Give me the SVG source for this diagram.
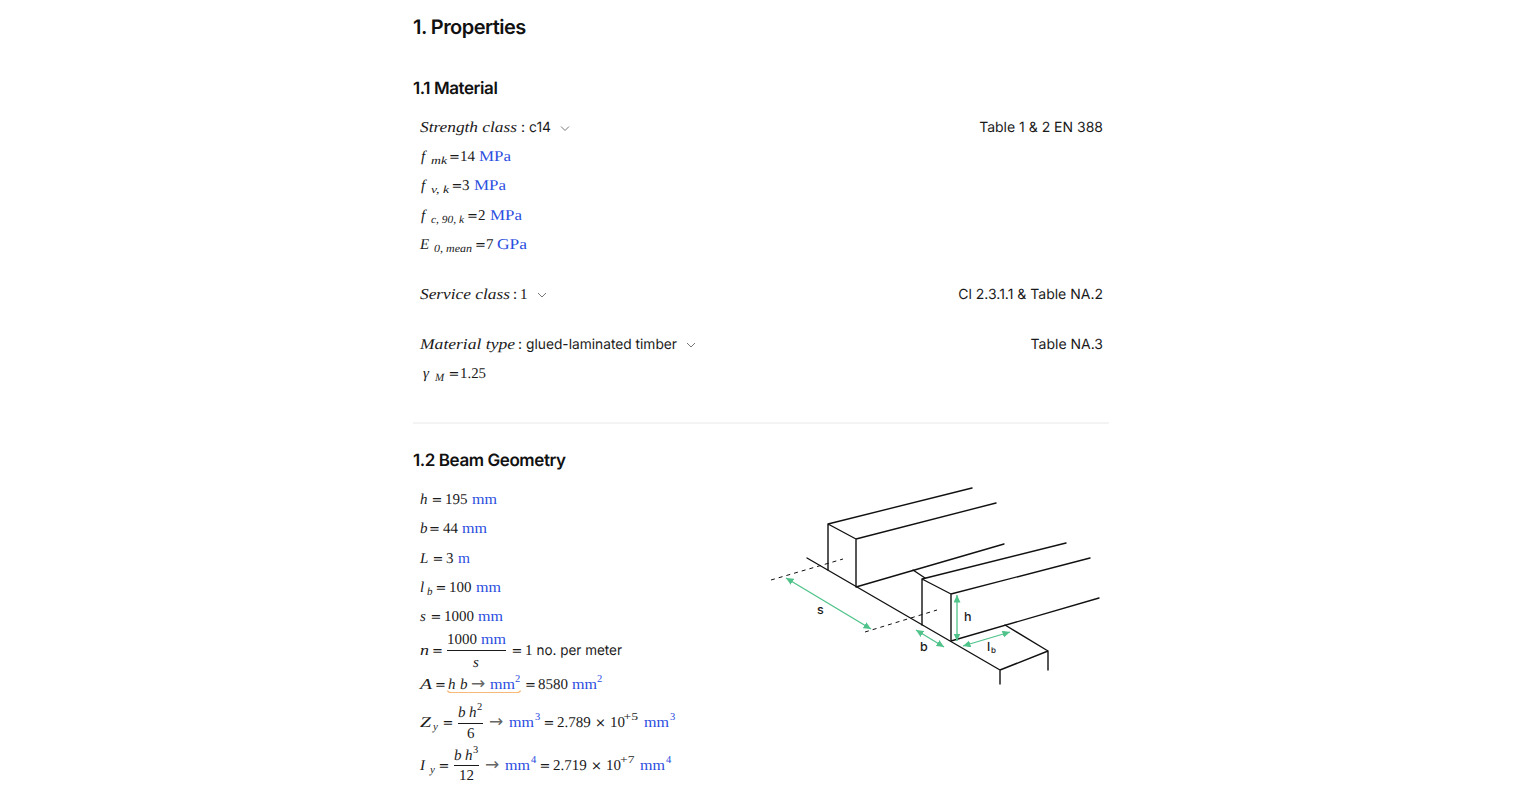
<svg xmlns="http://www.w3.org/2000/svg" width="1520" height="798" viewBox="0 0 1520 798">
<defs>
<style>
text{fill:#1a1a1a;font-family:"Liberation Serif",serif;font-size:15px;text-rendering:geometricPrecision}
.i{font-style:italic}
.u{fill:#2a4de0}
.s{font-size:10.5px}
.si{font-size:11px;font-style:italic}
.e{font-family:"DejaVu Sans",sans-serif;font-size:13px}
.a{font-family:"DejaVu Sans",sans-serif;font-size:17px;fill:#666}
.n{font-family:Inter,"Liberation Sans",sans-serif;font-size:14px}
.h1{font-family:Inter,"Liberation Sans",sans-serif;font-size:20px;font-weight:600;letter-spacing:-.55px;fill:#111}
.h2{font-family:Inter,"Liberation Sans",sans-serif;font-size:17px;font-weight:600;letter-spacing:-.42px;fill:#111}
.r{text-anchor:end}
.l{font-family:Inter,"Liberation Sans",sans-serif;font-size:12.500px;font-weight:500}
.c{fill:none;stroke:#777;stroke-width:1}
.f{stroke:#1a1a1a;stroke-width:1;fill:none}
.b{stroke:#111;stroke-width:1.400;fill:none;stroke-linecap:round;stroke-linejoin:round}
.d{stroke:#111;stroke-width:1;stroke-dasharray:4 4;fill:none}
.g{stroke:#4fc38a;stroke-width:1.300;fill:none;marker-start:url(#ah);marker-end:url(#ah)}
</style>
<marker id="ah" markerUnits="userSpaceOnUse" markerWidth="8" markerHeight="8" refX="7.500" refY="3.500" orient="auto-start-reverse"><path d="M0 0L7.500 3.500L0 7Z" fill="#4fc38a"/></marker>
</defs>
<rect width="1520" height="798" fill="#fff"/>

<g id="headings">
<text class="h1" x="413" y="34">1. Properties</text>
<text class="h2" x="413" y="94">1.1 Material</text>
<text class="h2" x="413" y="466">1.2 Beam Geometry</text>
<line x1="413" y1="423" x2="1109" y2="423" stroke="#e8e8e8"/>
</g>

<g id="material">
<text class="i" x="420" y="132" textLength="97" lengthAdjust="spacingAndGlyphs">Strength class</text>
<text class="n" x="521" y="132">:</text><text class="n" x="529" y="132" textLength="22" lengthAdjust="spacingAndGlyphs">c14</text>
<path class="c" d="M561 126.500L565 130.500L569 126.500"/>
<text class="n r" x="1103" y="132">Table 1 &amp; 2 EN 388</text>

<text class="i" x="421" y="161" font-size="16">f</text><text class="si" x="431" y="164" textLength="16" lengthAdjust="spacingAndGlyphs">mk</text><text class="e" x="449" y="161">=</text><text x="460" y="161">14</text><text class="u" x="479" y="161" textLength="32" lengthAdjust="spacingAndGlyphs">MPa</text>
<text class="i" x="421" y="190">f</text><text class="si" x="431" y="193" textLength="18" lengthAdjust="spacingAndGlyphs">v, k</text><text class="e" x="451.500" y="190">=</text><text x="462" y="190">3</text><text class="u" x="474" y="190" textLength="32" lengthAdjust="spacingAndGlyphs">MPa</text>
<text class="i" x="421" y="220">f</text><text class="si" x="431" y="223" textLength="33" lengthAdjust="spacingAndGlyphs">c, 90, k</text><text class="e" x="467" y="220">=</text><text x="478" y="220">2</text><text class="u" x="490" y="220" textLength="32" lengthAdjust="spacingAndGlyphs">MPa</text>
<text class="i" x="420" y="249">E</text><text class="si" x="434" y="252" textLength="38" lengthAdjust="spacingAndGlyphs">0, mean</text><text class="e" x="475" y="249">=</text><text x="486" y="249">7</text><text class="u" x="497" y="249" textLength="30" lengthAdjust="spacingAndGlyphs">GPa</text>

<text class="i" x="420" y="299" textLength="90" lengthAdjust="spacingAndGlyphs">Service class</text>
<text class="n" x="513" y="299">:</text><text x="520" y="299">1</text>
<path class="c" d="M538 293L542 297L546 293"/>
<text class="n r" x="1103" y="299">Cl 2.3.1.1 &amp; Table NA.2</text>

<text class="i" x="420" y="349" textLength="95" lengthAdjust="spacingAndGlyphs">Material type</text>
<text class="n" x="518" y="349">:</text><text class="n" x="526" y="349" textLength="151" lengthAdjust="spacingAndGlyphs">glued-laminated timber</text>
<path class="c" d="M687 343L691 347L695 343"/>
<text class="n r" x="1103" y="349">Table NA.3</text>

<text class="i" x="423" y="378">γ</text><text class="si" x="435" y="381">M</text><text class="e" x="448.500" y="378">=</text><text x="460" y="378" textLength="26" lengthAdjust="spacingAndGlyphs">1.25</text>
</g>

<g id="geometry">
<text class="i" x="420" y="504">h</text><text class="e" x="431.500" y="504">=</text><text x="445" y="504">195</text><text class="u" x="472" y="504" textLength="25" lengthAdjust="spacingAndGlyphs">mm</text>
<text class="i" x="420" y="533">b</text><text class="e" x="429" y="533">=</text><text x="443" y="533">44</text><text class="u" x="462" y="533" textLength="25" lengthAdjust="spacingAndGlyphs">mm</text>
<text class="i" x="420" y="563">L</text><text class="e" x="432.500" y="563">=</text><text x="446" y="563">3</text><text class="u" x="458" y="563" textLength="12" lengthAdjust="spacingAndGlyphs">m</text>
<text class="i" x="420" y="592">l</text><text class="si" x="427" y="595">b</text><text class="e" x="435.500" y="592">=</text><text x="449" y="592">100</text><text class="u" x="476" y="592" textLength="25" lengthAdjust="spacingAndGlyphs">mm</text>
<text class="i" x="420" y="621">s</text><text class="e" x="430.500" y="621">=</text><text x="444" y="621">1000</text><text class="u" x="478" y="621" textLength="25" lengthAdjust="spacingAndGlyphs">mm</text>

<text class="i" x="420" y="655" textLength="9" lengthAdjust="spacingAndGlyphs">n</text><text class="e" x="432" y="655">=</text>
<text x="447" y="644">1000</text><text class="u" x="481" y="644" textLength="25" lengthAdjust="spacingAndGlyphs">mm</text>
<line class="f" x1="447" y1="650.500" x2="506" y2="650.500"/>
<text class="i" x="473" y="667">s</text>
<text class="e" x="511.500" y="655">=</text><text x="525" y="655">1</text><text class="n" x="536.500" y="655" textLength="85.500" lengthAdjust="spacingAndGlyphs">no. per meter</text>

<text class="i" x="420" y="689" textLength="12" lengthAdjust="spacingAndGlyphs">A</text><text class="e" x="435" y="689">=</text><text class="i" x="448" y="689">h</text><text class="i" x="460" y="689">b</text><text class="a" x="471" y="689">→</text><text class="u" x="490" y="689" textLength="25" lengthAdjust="spacingAndGlyphs">mm</text><text class="s u" x="515" y="682">2</text>
<path d="M447.500 690.500Q448 692.500 451 692.500H517Q520 692.500 520.500 690.500" fill="none" stroke="#f8b878" stroke-width="1.200"/>
<text class="e" x="525" y="689">=</text><text x="538" y="689">8580</text><text class="u" x="572" y="689" textLength="25" lengthAdjust="spacingAndGlyphs">mm</text><text class="s u" x="597" y="682">2</text>

<text class="i" x="420" y="727" textLength="11" lengthAdjust="spacingAndGlyphs">Z</text><text class="si" x="433" y="730">y</text><text class="e" x="442.500" y="727">=</text>
<text class="i" x="458" y="717">b</text><text class="i" x="469" y="717">h</text><text class="s" x="477" y="710">2</text>
<line class="f" x1="458" y1="723.500" x2="483" y2="723.500"/>
<text x="467" y="738">6</text>
<text class="a" x="489" y="727">→</text><text class="u" x="509" y="727" textLength="25" lengthAdjust="spacingAndGlyphs">mm</text><text class="s u" x="535" y="720">3</text>
<text class="e" x="543.500" y="727">=</text><text x="557" y="727">2.789</text><text class="e" x="595" y="727">×</text><text x="610" y="727">10</text><text class="s" x="623.500" y="720" textLength="14.500" lengthAdjust="spacingAndGlyphs">+5</text><text class="u" x="644" y="727" textLength="25" lengthAdjust="spacingAndGlyphs">mm</text><text class="s u" x="670" y="720">3</text>

<text class="i" x="420" y="770">I</text><text class="si" x="430" y="773">y</text><text class="e" x="438.500" y="770">=</text>
<text class="i" x="454" y="760">b</text><text class="i" x="465" y="760">h</text><text class="s" x="473" y="753">3</text>
<line class="f" x1="454" y1="765.500" x2="479" y2="765.500"/>
<text x="459" y="780">12</text>
<text class="a" x="485" y="770">→</text><text class="u" x="505" y="770" textLength="25" lengthAdjust="spacingAndGlyphs">mm</text><text class="s u" x="531" y="763">4</text>
<text class="e" x="539.500" y="770">=</text><text x="553" y="770">2.719</text><text class="e" x="591" y="770">×</text><text x="606" y="770">10</text><text class="s" x="620" y="763" textLength="14.500" lengthAdjust="spacingAndGlyphs">+7</text><text class="u" x="640" y="770" textLength="25" lengthAdjust="spacingAndGlyphs">mm</text><text class="s u" x="666" y="763">4</text>
</g>

<g id="beam-figure">
<path class="d" d="M771 580L843 559"/>
<path class="d" d="M865 632L937 610"/>
<path class="b" d="M807 558L1000 670L1048 651L1005 625M1000 670V684M1048 651V670"/>
<path class="b" d="M972 488L828 524L856 539L996 503M828 524V570M856 539V587L1004 544M913 570L925 578"/>
<path class="b" d="M1066 543L922 579L951 594L1090 558M922 579V625M951 594V641L1099 598"/>
<g id="dimensions">
<path class="g" d="M786 578L871 629"/>
<path class="g" d="M916 630L944 647"/>
<path class="g" d="M957 595V641"/>
<path class="g" d="M963 646L1010 632"/>
</g>
<text class="l" x="817" y="614">s</text>
<text class="l" x="920" y="651">b</text>
<text class="l" x="964" y="621">h</text>
<text class="l" x="987" y="651">l</text><text class="l" style="font-size:8px" x="991" y="653">b</text>
</g>
</svg>
